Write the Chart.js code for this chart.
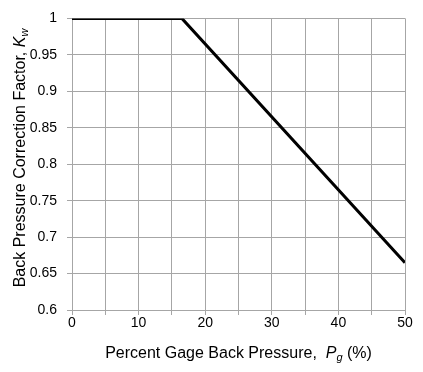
<!DOCTYPE html>
<html>
<head>
<meta charset="utf-8">
<script src="https://cdn.jsdelivr.net/npm/chart.js@4"></script>
<style>
  html, body { margin: 0; padding: 0; background: #fff; }
  #wrap { width: 423px; height: 372px; position: relative; }
</style>
</head>
<body>
<div id="wrap"><canvas id="kw_chart" width="423" height="372"></canvas></div>
<script>
// Back pressure correction factor vs percent gage back pressure
const pgValues = [0, 16.5, 50];
const kwValues = [1, 1, 0.665];
const xTickLabels = ['0', '10', '20', '30', '40', '50'];
const yTickLabels = ['0.6', '0.65', '0.7', '0.75', '0.8', '0.85', '0.9', '0.95', '1'];

const FONT = '"Liberation Sans", Arial, sans-serif';
const GRID = '#a6a6a6';

// draws axis titles with italic symbol and subscript
const titlePlugin = {
  id: 'axisTitles',
  afterDraw(chart) {
    const ctx = chart.ctx, area = chart.chartArea;
    function parts(list) {
      let w = 0;
      list.forEach(p => { ctx.font = p.font; p.w = ctx.measureText(p.t).width; w += p.w; });
      return w;
    }
    function drawParts(list, x0, y) {
      let x = x0;
      list.forEach(p => {
        ctx.font = p.font;
        ctx.fillText(p.t, x, y + (p.dy || 0));
        x += p.w;
      });
    }
    ctx.save();
    ctx.fillStyle = '#000';
    ctx.textBaseline = 'alphabetic';
    ctx.textAlign = 'left';
    const xt = [
      { t: 'Percent Gage Back Pressure,  ', font: '16px ' + FONT },
      { t: 'P', font: 'italic 16px ' + FONT },
      { t: 'g', font: 'italic 11px ' + FONT, dy: 3 },
      { t: ' (%)', font: '16px ' + FONT }
    ];
    const xw = parts(xt);
    drawParts(xt, (area.left + area.right) / 2 - xw / 2, 358);

    const yt = [
      { t: 'Back Pressure Correction Factor, ', font: '16px ' + FONT },
      { t: 'K', font: 'italic 16px ' + FONT },
      { t: 'w', font: 'italic 11px ' + FONT, dy: 3 }
    ];
    const yw = parts(yt);
    ctx.translate(25, 158);
    ctx.rotate(-Math.PI / 2);
    drawParts(yt, -yw / 2, 0);
    ctx.restore();
  }
};

new Chart(document.getElementById('kw_chart').getContext('2d'), {
  type: 'scatter',
  data: {
    datasets: [{
      data: pgValues.map((x, i) => ({ x: x, y: kwValues[i] })),
      showLine: true,
      borderColor: '#000',
      borderWidth: 3,
      pointRadius: 0,
      fill: false,
      tension: 0
    }]
  },
  options: {
    responsive: false,
    animation: false,
    layout: { padding: { left: 0, top: 16, right: 18, bottom: 0 } },
    plugins: { legend: { display: false }, tooltip: { enabled: false } },
    scales: {
      x: {
        type: 'linear', min: 0, max: 50,
        afterFit: s => { s.height = 62; },
        grid: { color: GRID, tickLength: 5, tickColor: GRID },
        border: { color: GRID },
        ticks: {
          stepSize: 5, maxRotation: 0, autoSkip: false, padding: 0, color: '#000',
          font: { family: FONT, size: 14 },
          callback: v => (v % 10 === 0 ? xTickLabels[v / 10] : '')
        }
      },
      y: {
        type: 'linear', min: 0.6, max: 1,
        afterFit: s => { s.width = 72; },
        grid: { color: GRID, tickLength: 5, tickColor: GRID },
        border: { color: GRID },
        ticks: {
          stepSize: 0.05, padding: 10, color: '#000',
          font: { family: FONT, size: 14 },
          callback: v => yTickLabels[Math.round((v - 0.6) / 0.05)]
        }
      }
    }
  },
  plugins: [titlePlugin]
});
</script>
</body>
</html>
